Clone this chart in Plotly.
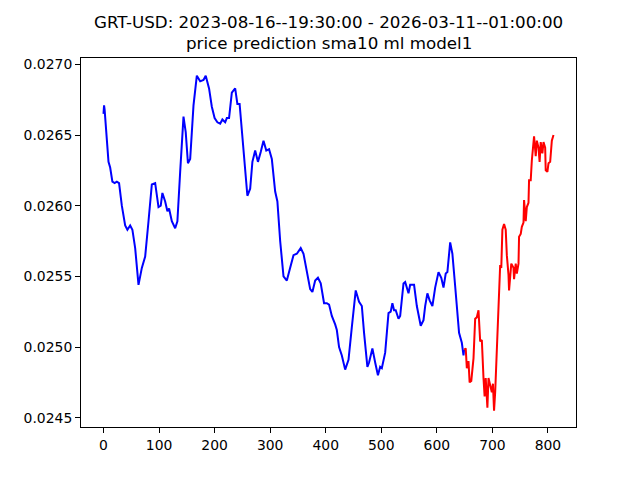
import plotly.graph_objects as go

title_line1 = "GRT-USD: 2023-08-16--19:30:00 - 2026-03-11--01:00:00"
title_line2 = "price prediction sma10 ml model1"

hist_x = [0, 1, 2, 9, 12, 16, 20, 24, 28, 33, 39, 43, 48, 52, 57, 63, 69, 75, 81, 87,
          93, 99, 103, 106, 111, 115, 118, 123, 129, 133, 138, 144, 148, 152, 156, 162, 168, 174, 180, 184,
          190, 195, 200, 205, 210, 214, 219, 222, 226, 231, 237, 241, 245, 251, 259, 264, 268, 273, 278, 283,
          288, 293, 298, 303, 309, 313, 318, 324, 330, 336, 342, 348, 355, 360, 366, 372, 376, 381, 386, 391,
          397, 402, 406, 411, 417, 420, 424, 429, 435, 441, 447, 454, 460, 465, 469, 475, 478, 484, 489, 494,
          498, 501, 507, 513, 517, 520, 523, 526, 531, 534, 540, 543, 549, 552, 559, 564, 571, 576, 579, 583,
          587, 592, 597, 603, 608, 612, 616, 619, 624, 628, 633, 636, 640, 645, 648, 649]
hist_y = [0.02665, 0.02671, 0.02668, 0.02631, 0.02627, 0.02617, 0.02616, 0.02617, 0.02616, 0.02600,
          0.02586, 0.02583, 0.02586, 0.02583, 0.02570, 0.02544, 0.02556, 0.02564, 0.02589, 0.02615,
          0.02616, 0.02599, 0.02600, 0.02609, 0.02603, 0.02596, 0.02598, 0.02589, 0.02584, 0.02589,
          0.02624, 0.02663, 0.02652, 0.02630, 0.02633, 0.02671, 0.02692, 0.02688, 0.02689, 0.02692,
          0.02683, 0.02670, 0.02662, 0.02659, 0.02658, 0.02661, 0.02659, 0.02662, 0.02662, 0.02680,
          0.02683, 0.02672, 0.02672, 0.02644, 0.02607, 0.02612, 0.02631, 0.02639, 0.02631, 0.02638,
          0.02646, 0.02639, 0.02640, 0.02633, 0.02610, 0.02603, 0.02575, 0.02550, 0.02547, 0.02556,
          0.02565, 0.02566, 0.02570, 0.02566, 0.02553, 0.02541, 0.02539, 0.02547, 0.02549, 0.02545,
          0.02531, 0.02531, 0.02530, 0.02522, 0.02516, 0.02512, 0.02500, 0.02494, 0.02484, 0.02491,
          0.02514, 0.02540, 0.02532, 0.02529, 0.02510, 0.02486, 0.02489, 0.02499, 0.02489, 0.02480,
          0.02486, 0.02485, 0.02496, 0.02524, 0.02525, 0.02531, 0.02526, 0.02526, 0.02520, 0.02522,
          0.02545, 0.02546, 0.02538, 0.02544, 0.02544, 0.02529, 0.02515, 0.02519, 0.02529, 0.02538,
          0.02533, 0.02529, 0.02542, 0.02553, 0.02549, 0.02542, 0.02552, 0.02553, 0.02574, 0.02566,
          0.02543, 0.02526, 0.02510, 0.02503, 0.02494, 0.02498]

pred_x = [649, 652, 654, 657, 659, 662, 666, 669, 672, 675, 678, 681, 684, 686, 688, 691, 693, 696, 699, 701,
          703, 705, 708, 711, 714, 716, 718, 721, 724, 726, 729, 730, 734, 738, 739, 742, 744, 747, 748, 751,
          753, 756, 757, 760, 762, 765, 766, 769, 771, 775, 778, 780, 783, 785, 787, 790, 792, 795, 796, 799,
          801, 804, 807, 810]
pred_y = [0.02498, 0.02499, 0.02485, 0.02490, 0.02475, 0.02476, 0.02492, 0.02520, 0.02521, 0.02526,
          0.02504, 0.02505, 0.02478, 0.02465, 0.02478, 0.02457, 0.02478, 0.02473, 0.02468, 0.02474,
          0.02455, 0.02468, 0.02503, 0.02530, 0.02558, 0.02556, 0.02583, 0.02587, 0.02583, 0.02565,
          0.02551, 0.02540, 0.02559, 0.02556, 0.02548, 0.02559, 0.02552, 0.02559, 0.02578, 0.02580,
          0.02585, 0.02588, 0.02604, 0.02589, 0.02599, 0.02602, 0.02618, 0.02618, 0.02632, 0.02649,
          0.02635, 0.02646, 0.02641, 0.02631, 0.02645, 0.02637, 0.02645, 0.02641, 0.02625, 0.02624,
          0.02630, 0.02631, 0.02646, 0.02650]

x_ticks = [0, 100, 200, 300, 400, 500, 600, 700, 800]
y_ticks = [0.0245, 0.0250, 0.0255, 0.0260, 0.0265, 0.0270]

font_family = "DejaVu Sans"

fig = go.Figure()
fig.add_trace(go.Scatter(x=hist_x, y=hist_y, mode="lines",
                         line=dict(color="#0000ff", width=2), showlegend=False))
fig.add_trace(go.Scatter(x=pred_x, y=pred_y, mode="lines",
                         line=dict(color="#ff0000", width=2), showlegend=False))

axis_common = dict(showline=True, mirror=True, linecolor="black", linewidth=1,
                   ticks="outside", ticklen=5, tickwidth=1, tickcolor="black",
                   showgrid=False, zeroline=False,
                   tickfont=dict(family=font_family, size=13.9, color="black"))

fig.update_xaxes(range=[-40.5, 850.5], tickvals=x_ticks,
                 ticktext=[str(v) for v in x_ticks], **axis_common)
fig.update_yaxes(range=[0.024434, 0.027045], tickvals=y_ticks,
                 ticktext=[f"{v:.4f}" for v in y_ticks], **axis_common)

fig.add_annotation(text=title_line1, xref="paper", yref="paper", x=0.5, y=1.0976,
                   showarrow=False, yanchor="middle", xanchor="center",
                   font=dict(family=font_family, size=16.7, color="black"))
fig.add_annotation(text=title_line2, xref="paper", yref="paper", x=0.5, y=1.0407,
                   showarrow=False, yanchor="middle", xanchor="center",
                   font=dict(family=font_family, size=16.7, color="black"))

# the page body has an 8px margin, so the figure is offset by (8, 8)
fig.update_layout(width=640, height=480, margin=dict(l=73, r=72, t=50, b=61),
                  paper_bgcolor="white", plot_bgcolor="white",
                  font=dict(family=font_family, color="black"))

fig.write_html("out.html")
